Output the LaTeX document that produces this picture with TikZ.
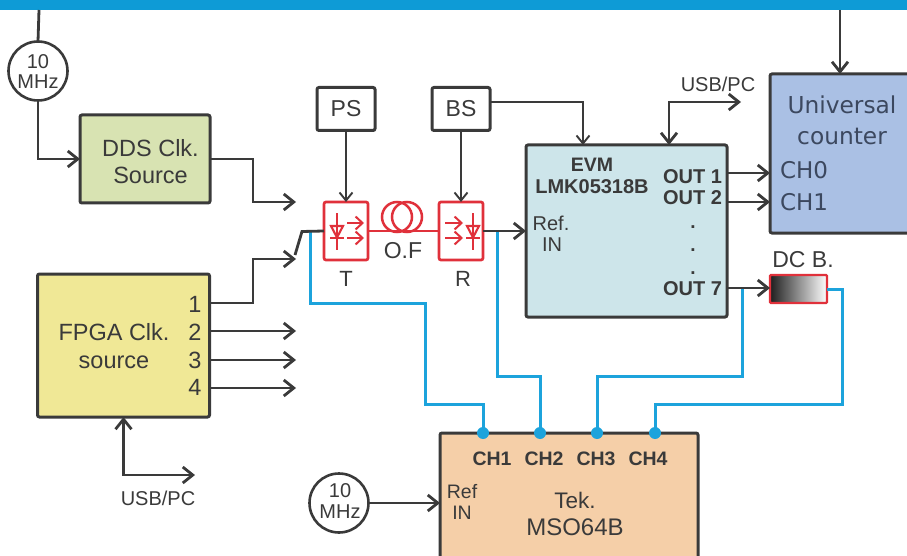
\documentclass[tikz,border=0pt]{standalone}
\usepackage{fontspec}
\setmainfont{Liberation Sans}
\newfontfamily\dvfont{DejaVu Sans}
\usetikzlibrary{arrows.meta,calc}
\newcommand{\fsz}[1]{\fontsize{#1}{#1}\selectfont}
\newcommand{\fszl}[2]{\fontsize{#1}{#2}\selectfont}
\definecolor{ink}{HTML}{3A3A3A}
\definecolor{barblue}{HTML}{0E9BD6}
\definecolor{wire}{HTML}{1CA3DC}
\definecolor{optred}{HTML}{E0313B}
\definecolor{cuink}{RGB}{60,72,95}
\tikzset{
  barb/.tip={Straight Barb[length=10pt,width=16pt,line width=2.8pt]},
  wr/.style={draw=ink,line width=2.8pt,-barb},
  wrr/.style={draw=ink,line width=2.8pt,barb-barb},
  ln/.style={draw=ink,line width=2.8pt},
  thin arr/.style={draw=ink,line width=1.9pt,-{Straight Barb[length=8pt,width=13pt,line width=1.9pt]}},
  bl/.style={draw=wire,line width=3pt,line join=miter},
  box/.style={draw=ink,line width=3pt,rounded corners=2pt,inner sep=0pt,outer sep=0pt,text=ink,align=center},
  optbox/.style={draw=optred,line width=2.7pt,rounded corners=2pt,inner sep=0pt,outer sep=0pt,minimum width=44pt,minimum height=58pt},
  ring/.style={circle,draw=ink,line width=2.6pt,inner sep=0pt,outer sep=0pt,minimum size=59pt},
  txt/.style={inner sep=0pt,outer sep=0pt,text=ink,align=center},
  opt/.style={draw=optred,line width=2.1pt},
  optarr/.style={draw=optred,line width=2pt,-{Straight Barb[length=7pt,width=13pt,line width=2pt]}},
  dot/.style={circle,fill=wire,inner sep=0pt,minimum size=12pt},
}
\begin{document}
\begin{tikzpicture}[x=1pt,y=-1pt]
\useasboundingbox (0,0) rectangle (907,556);
\clip (0,0) rectangle (907,556);
\fill[barblue] (0,0) rectangle (907,10);
\coordinate (bartop1) at (39,10);
\coordinate (bartop2) at (840,10);

% blocks
\node[box,fill={rgb,255:red,216;green,227;blue,178},minimum width=130pt,minimum height=88pt] (dds) at (145,159) {};
\node[box,fill={rgb,255:red,240;green,232;blue,150},minimum width=172pt,minimum height=143pt] (fpga) at (123.5,345.5) {};
\node[box,fill={rgb,255:red,205;green,229;blue,234},minimum width=201pt,minimum height=172pt] (evm) at (626.5,231) {};
\node[box,fill={rgb,255:red,170;green,192;blue,228},minimum width=160pt,minimum height=159pt] (uc) at (850,153.5) {};
\node[box,fill={rgb,255:red,245;green,207;blue,168},minimum width=258pt,minimum height=160pt] (tek) at (569,513) {};
\node[box,fill=white,minimum width=58pt,minimum height=43pt,font=\fsz{23}] (ps) at (346,109) {PS};
\node[box,fill=white,minimum width=58pt,minimum height=43pt,font=\fsz{23}] (bs) at (461,109) {BS};
\node[optbox,fill=white] (tx) at (346,231) {};
\node[optbox,fill=white] (rx) at (461,231) {};
\node[ring] (clka) at (38,71) {};
\node[ring] (clkb) at (339,503) {};
\node[draw=optred,line width=2.4pt,rounded corners=1pt,left color=black!88,right color=white,minimum width=57pt,minimum height=28pt,inner sep=0pt,outer sep=0pt] (dcb) at (798.5,289) {};

% free ends
\coordinate (sw) at (302,231.5);
\coordinate (swa) at (295,255);
\coordinate (ep1) at (296,202);
\coordinate (ep2) at (296,259);
\coordinate (f1) at (209,303);
\coordinate (f2) at (296,331);
\coordinate (f3) at (296,360);
\coordinate (f4) at (296,388);
\coordinate (usba) at (741,102);
\coordinate (usbb) at (195,475);
\coordinate (tapt) at (310,231);
\coordinate (tapr) at (497,231);
\coordinate (tap7) at (742,288);
\coordinate (ch1) at (483,433);
\coordinate (ch2) at (540,433);
\coordinate (ch3) at (597,433);
\coordinate (ch4) at (655,433);
\coordinate (y159) at (0,159);
\coordinate (y102) at (0,102);
\coordinate (ev1) at (727,173);
\coordinate (ev2) at (727,202);
\coordinate (ev7) at (727,288);
\coordinate (evtop) at (669,145);
\coordinate (evbs) at (583,145);
\coordinate (uctop) at (840,74);

% blue wires
\draw[bl] (tapt) -- (310,303) -- (425,303) -- (425,404) -- (483,404) -- (ch1);
\draw[bl] (tapr) -- (497,376) -- (540,376) -- (ch2);
\draw[bl] (tap7) -- (742,376) -- (597,376) -- (ch3);
\draw[bl] (dcb.east) -- (842,289) -- (842,404) -- (655,404) -- (ch4);
\foreach \c in {ch1,ch2,ch3,ch4} \node[dot] at (\c) {};

% black connectors
\draw[ln] (bartop1) -- (clka.north);
\draw[wr] (clka.south) -- (clka.south |- y159) -- (dds.west |- y159);
\draw[wr] (dds.east |- y159) -- (253,159) -- (253,202) -- (ep1);
\draw[wr] (f1) -- (253,303) -- (253,259) -- (ep2);
\draw[wr] (fpga.east |- f2) -- (f2);
\draw[wr] (fpga.east |- f3) -- (f3);
\draw[wr] (fpga.east |- f4) -- (f4);
\draw[ln] (swa) -- (sw) -- (tx.west);
\draw[wrr] (fpga.south) -- (fpga.south |- usbb) -- (usbb);
\draw[wrr] (evtop) -- (669,102) -- (usba);
\draw[thin arr] (ps.south) -- (tx.north);
\draw[thin arr] (bs.south) -- (rx.north);
\draw[thin arr] (bs.east |- y102) -- (583,102) -- (evbs);
\draw[wr] (rx.east) -- (evm.west |- rx.east);
\draw[wr] (bartop2) -- (uctop);
\draw[wr] (ev1) -- (uc.west |- ev1);
\draw[wr] (ev2) -- (uc.west |- ev2);
\draw[wr] (ev7) -- (dcb.west |- ev7);
\draw[wr] (clkb.east) -- (tek.west |- clkb.east);

% fibre
\draw[draw=optred,line width=2.7pt] (tx.east) -- (rx.west);
\draw[draw=optred,line width=2.5pt] (397,217) circle (15);
\draw[draw=optred,line width=2.5pt] (407,217) circle (15);

% transmitter icon
\draw[opt] (337,213) -- (337,250);
\draw[opt] (331,226) -- (343,226) -- (337,237.5) -- cycle;
\draw[opt] (330,238) -- (344,238);
\draw[optarr] (347,223) -- (364,223);
\draw[optarr] (347,238) -- (364,238);
% receiver icon
\draw[opt] (473,213) -- (473,250);
\draw[opt] (467,226) -- (479,226) -- (473,237.5) -- cycle;
\draw[opt] (466,238) -- (480,238);
\draw[optarr] (445,223) -- (463,223);
\draw[optarr] (445,238) -- (463,238);

% labels
\node[txt,font=\fszl{23.5}{27.5}] (dl1) at (150.5,161.5) {DDS Clk.\\Source};
\node[txt,font=\fszl{23.5}{28}] (fl) at (114,346) {FPGA Clk.\\source};
\node[txt,font=\fsz{20}] (ca1) at (38,62) {10};
\node[txt,font=\fsz{20}] (ca2) at (38,82) {MHz};
\node[txt,font=\fsz{20}] (cb1) at (340,491) {10};
\node[txt,font=\fsz{20}] (cb2) at (340,512) {MHz};
\node[txt,font=\fsz{23}] (of) at (403,251) {O.F};
\node[txt,font=\fsz{22}] (tl) at (346,279) {T};
\node[txt,font=\fsz{22}] (rl) at (463,279) {R};
\node[txt,font=\fsz{23.5}] (n1) at (195,304) {1};
\node[txt,font=\fsz{23.5}] (n2) at (195,332) {2};
\node[txt,font=\fsz{23.5}] (n3) at (195,360) {3};
\node[txt,font=\fsz{23.5}] (n4) at (195,387) {4};
\node[txt,font=\fsz{20}] (u1) at (718,84) {USB/PC};
\node[txt,font=\fsz{20}] (u2) at (158,498) {USB/PC};
\node[txt,font=\bfseries\fsz{19.5}] (e1) at (592,165) {EVM};
\node[txt,font=\bfseries\fsz{20}] (e2) at (592,187) {LMK05318B};
\node[txt,font=\fsz{20}] (e3) at (551,223) {Ref.};
\node[txt,font=\fsz{20}] (e4) at (552,245) {IN};
\node[txt,font=\bfseries\fsz{20},anchor=east] (o1) at (722,177) {OUT 1};
\node[txt,font=\bfseries\fsz{20},anchor=east] (o2) at (722,198) {OUT 2};
\node[txt,font=\bfseries\fsz{20},anchor=east] (o7) at (722,289) {OUT 7};
\node[txt,font=\bfseries\fsz{19}] (d1) at (693,227) {.};
\node[txt,font=\bfseries\fsz{19}] (d2) at (693,250) {.};
\node[txt,font=\bfseries\fsz{19}] (d3) at (693,273) {.};
\node[txt,font=\dvfont\fsz{23.3},text=cuink] (c1) at (842,105) {Universal};
\node[txt,font=\dvfont\fsz{23.3},text=cuink] (c2) at (842,136) {counter};
\node[txt,font=\dvfont\fsz{23},anchor=west,text=cuink] (c3) at (780,170) {CH0};
\node[txt,font=\dvfont\fsz{23},anchor=west,text=cuink] (c4) at (780,202) {CH1};
\node[txt,font=\fsz{23}] (dl) at (803,260) {DC B.};
\node[txt,font=\bfseries\fsz{19.5}] (s1) at (492,459) {CH1};
\node[txt,font=\bfseries\fsz{19.5}] (s2) at (544,459) {CH2};
\node[txt,font=\bfseries\fsz{19.5}] (s3) at (596,459) {CH3};
\node[txt,font=\bfseries\fsz{19.5}] (s4) at (648,459) {CH4};
\node[txt,font=\fsz{19.5}] (rf) at (462,492) {Ref};
\node[txt,font=\fsz{19.5}] (rf2) at (462,513) {IN};
\node[txt,font=\fsz{22.5}] (t1) at (575,500) {Tek.};
\node[txt,font=\fsz{24}] (t2) at (575,527) {MSO64B};
\end{tikzpicture}
\end{document}
